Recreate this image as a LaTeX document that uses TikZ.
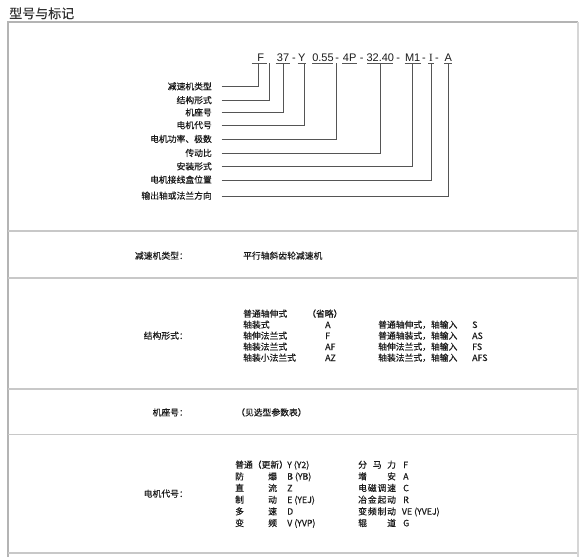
\documentclass[tikz,border=0pt]{standalone}
\usepackage{fontspec}
\setmainfont{Liberation Sans}
\newfontfamily\cjk[FakeBold=0.3]{Noto Sans CJK SC}
\newfontfamily\cjkt[FakeBold=0.15]{Noto Sans CJK SC}
\newfontfamily\serifI{Liberation Serif}
\definecolor{ink}{HTML}{1A1A1A}
\definecolor{connc}{HTML}{555555}
\definecolor{framec}{HTML}{B4B4B4}
\definecolor{sepc}{HTML}{C8C8C8}
\definecolor{rightc}{HTML}{D6D6D6}
\begin{document}
\begin{tikzpicture}[x=1pt,y=-1pt,
  lbl/.style={anchor=east,inner sep=0pt,text=ink,font=\cjk\fontsize{8.8}{10}\selectfont,text height=7.5pt,text depth=1.5pt},
  hd/.style={anchor=east,inner sep=0pt,text=ink,font=\cjk\fontsize{8.8}{10}\selectfont,text height=7.5pt,text depth=1.5pt},
  bd/.style={anchor=west,inner sep=0pt,text=ink,font=\cjk\fontsize{8.8}{10}\selectfont,text height=7.5pt,text depth=1.5pt},
  code/.style={anchor=base,inner sep=0pt,text=ink,font=\fontsize{11}{12}\selectfont},
  conn/.style={draw=connc,line width=0.7pt},
  uline/.style={draw=connc,line width=0.7pt},
  sep/.style={draw=sepc,line width=1.1pt}]
\path[use as bounding box] (0,0) rectangle (588,557);
% title
\node[anchor=west,inner sep=0pt,text=ink!90,font=\cjkt\fontsize{13}{14}\selectfont] (title) at (9,13.3) {型号与标记};
% frame
\draw[draw=framec,line width=1.1pt] (8,557) -- (8,22) -- (578,22);
\draw[draw=rightc,line width=1.6pt] (578,22) -- (578,557);
\foreach \yy in {231,278,389,434.5,553} \draw[sep] (8,\yy) -- (577,\yy);
% code line
\node[code] (cF) at (260.8,61) {F};
\node[code] (c37) at (283,61) {37};
\node[code] (d1) at (294,61) {-};
\node[code] (cY) at (301.7,61) {Y};
\node[code] (c055) at (323,61) {0.55};
\node[code] (d2) at (337.3,61) {-};
\node[code] (c4P) at (349.7,61) {4P};
\node[code] (d3) at (361.7,61) {-};
\node[code] (c32) at (380.3,61) {32.40};
\node[code] (d4) at (398.3,61) {-};
\node[code] (cM) at (412.7,61) {M1};
\node[code] (d5) at (424,61) {-};
\node[code,font=\serifI\fontsize{11}{12}\selectfont] (cI) at (431,61) {I};
\node[code] (d6) at (437,61) {-};
\node[code] (cA) at (448.3,61) {A};
% underlines
\draw[uline] (251.7,63) -- (267.3,63);
\draw[uline] (275.7,63) -- (290,63);
\draw[uline] (297.7,63) -- (306,63);
\draw[uline] (312,63) -- (333.3,63);
\draw[uline] (342,63) -- (357.3,63);
\draw[uline] (367.3,63) -- (393.3,63);
\draw[uline] (404.7,63) -- (420.7,63);
\draw[uline] (428,63) -- (434,63);
\draw[uline] (444,63) -- (452,63);
% slots
\coordinate (s1) at (258.3,63);
\coordinate (s2) at (269.3,63);
\coordinate (s3) at (283.3,63);
\coordinate (s4) at (304.3,63);
\coordinate (s5) at (336.7,63);
\coordinate (s6) at (380.7,63);
\coordinate (s7) at (412.7,63);
\coordinate (s8) at (431,63);
\coordinate (s9) at (448.3,63);
% labels
\node[lbl] (l1) at (212,86.7) {减速机类型};
\node[lbl] (l2) at (212,100.5) {结构形式};
\node[lbl] (l3) at (212,112.7) {机座号};
\node[lbl] (l4) at (212,125.5) {电机代号};
\node[lbl] (l5) at (212,139.3) {电机功率、极数};
\node[lbl] (l6) at (212,153.3) {传动比};
\node[lbl] (l7) at (212,166.7) {安装形式};
\node[lbl] (l8) at (212,180) {电机接线盒位置};
\node[lbl] (l9) at (212,196) {输出轴或法兰方向};
\foreach \i in {1,...,9} \draw[conn] ([xshift=9.7pt]l\i.east) -| (s\i);
% section 1
\node[hd] (h1) at (188,256) {减速机类型：};
\node[bd] (t1) at (243,256) {平行轴斜齿轮减速机};
% section 2
\node[hd] (h2) at (188,336) {结构形式：};
\node[bd] (a1) at (243,314) {普通轴伸式};
\node[bd] (a2) at (243,325) {轴装式};
\node[bd] (a3) at (243,336) {轴伸法兰式};
\node[bd] (a4) at (243,347) {轴装法兰式};
\node[bd] (a5) at (243,358) {轴装小法兰式};
\node[bd] (b1) at (307,314) {（省略）};
\node[bd] (b2) at (325,325) {A};
\node[bd] (b3) at (325,336) {F};
\node[bd] (b4) at (325,347) {AF};
\node[bd] (b5) at (325,358) {AZ};
\node[bd] (c2) at (378,325) {普通轴伸式，轴输入};
\node[bd] (c3) at (378,336) {普通轴装式，轴输入};
\node[bd] (c4) at (378,347) {轴伸法兰式，轴输入};
\node[bd] (c5) at (378,358) {轴装法兰式，轴输入};
\node[bd] (e2) at (472,325) {S};
\node[bd] (e3) at (472,336) {AS};
\node[bd] (e4) at (472,347) {FS};
\node[bd] (e5) at (472,358) {AFS};
% section 3
\node[hd] (h3) at (188,412.7) {机座号：};
\node[bd] (t3) at (236,412.7) {（见选型参数表）};
% section 4
\node[hd] (h4) at (188,494) {电机代号：};
\node[bd] (m1a) at (235,465) {普通（更新）};
\node[bd] (m1c) at (287,465) {Y (Y2)};
\node[bd] (m2a) at (235,476.7) {防};
\node[bd] (m2b) at (268,476.7) {爆};
\node[bd] (m2c) at (287,476.7) {B (YB)};
\node[bd] (m3a) at (235,488.3) {直};
\node[bd] (m3b) at (268,488.3) {流};
\node[bd] (m3c) at (287,488.3) {Z};
\node[bd] (m4a) at (235,500) {制};
\node[bd] (m4b) at (268,500) {动};
\node[bd] (m4c) at (287,500) {E (YEJ)};
\node[bd] (m5a) at (235,511.7) {多};
\node[bd] (m5b) at (268,511.7) {速};
\node[bd] (m5c) at (287,511.7) {D};
\node[bd] (m6a) at (235,523.3) {变};
\node[bd] (m6b) at (268,523.3) {频};
\node[bd] (m6c) at (287,523.3) {V (YVP)};
% right column
\node[bd] (n1a) at (358,465) {分};
\node[bd] (n1b) at (372.7,465) {马};
\node[bd] (n1c) at (387,465) {力};
\node[bd] (n1d) at (403,465) {F};
\node[bd] (n2a) at (358,476.7) {增};
\node[bd] (n2c) at (387,476.7) {安};
\node[bd] (n2d) at (403,476.7) {A};
\node[bd] (n3a) at (358,488.3) {电};
\node[bd] (n3b) at (367.7,488.3) {磁};
\node[bd] (n3x) at (377.4,488.3) {调};
\node[bd] (n3c) at (387,488.3) {速};
\node[bd] (n3d) at (403,488.3) {C};
\node[bd] (n4a) at (358,500) {冶};
\node[bd] (n4b) at (367.7,500) {金};
\node[bd] (n4x) at (377.4,500) {起};
\node[bd] (n4c) at (387,500) {动};
\node[bd] (n4d) at (403,500) {R};
\node[bd] (n5a) at (358,511.7) {变};
\node[bd] (n5b) at (367.7,511.7) {频};
\node[bd] (n5x) at (377.4,511.7) {制};
\node[bd] (n5c) at (387,511.7) {动};
\node[bd] (n5d) at (401.7,511.7) {VE (YVEJ)};
\node[bd] (n6a) at (358,523.3) {辊};
\node[bd] (n6c) at (387,523.3) {道};
\node[bd] (n6d) at (403,523.3) {G};
\end{tikzpicture}
\end{document}
